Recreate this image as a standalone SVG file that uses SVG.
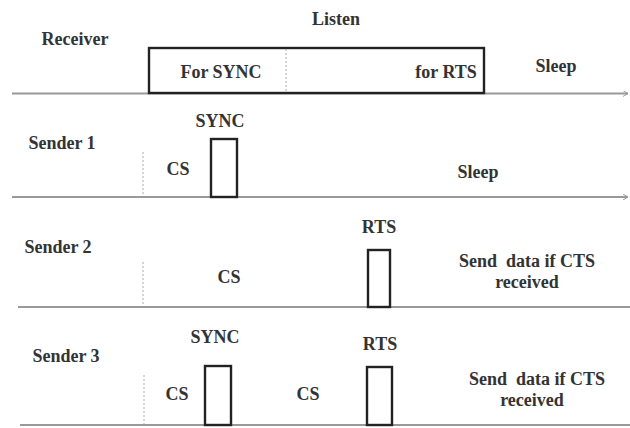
<svg xmlns="http://www.w3.org/2000/svg" width="630" height="428" viewBox="0 0 630 428">
<style>
text{font-family:"Liberation Serif","Times New Roman","DejaVu Serif",serif;font-weight:bold;font-size:18px;fill:#333;text-anchor:middle}
.axis{stroke:#999;stroke-width:2;fill:none}
.box{stroke:#222;stroke-width:2.4;fill:#fff}
.dash{stroke:#aaa;stroke-width:1;stroke-dasharray:2,2;fill:none}
</style>
<defs>
<marker id="ah" markerWidth="6" markerHeight="6" refX="5" refY="3" orient="auto" markerUnits="userSpaceOnUse"><path d="M0,0 L5,3 L0,6" fill="none" stroke="#999" stroke-width="1"/></marker>
</defs>
<g id="connectors">
<line class="axis" x1="12" y1="93.5" x2="628" y2="93.5" marker-end="url(#ah)"/>
<line class="axis" x1="12" y1="197" x2="628" y2="197" marker-end="url(#ah)"/>
<line class="axis" x1="18" y1="307" x2="630" y2="307"/>
<line class="axis" x1="20" y1="425" x2="630" y2="425"/>
<line class="dash" x1="143" y1="152" x2="143" y2="196"/>
<line class="dash" x1="143" y1="262" x2="143" y2="306"/>
<line class="dash" x1="144" y1="375" x2="144" y2="424"/>
</g>
<g id="receiver">
<text x="75" y="45">Receiver</text>
<text x="336" y="25">Listen</text>
<rect class="box" x="149" y="48" width="335" height="45"/>
<line class="dash" x1="286" y1="49" x2="286" y2="92"/>
<text x="221" y="78">For SYNC</text>
<text x="446" y="78">for RTS</text>
<text x="556" y="72">Sleep</text>
</g>
<g id="sender1">
<text x="62" y="149">Sender 1</text>
<text x="220" y="127">SYNC</text>
<rect class="box" x="211" y="139" width="26" height="58"/>
<text x="178" y="175">CS</text>
<text x="478" y="178">Sleep</text>
</g>
<g id="sender2">
<text x="58" y="253">Sender 2</text>
<text x="379" y="233">RTS</text>
<rect class="box" x="368" y="250" width="22" height="57"/>
<text x="229" y="283">CS</text>
<text x="527" y="267" xml:space="preserve">Send  data if CTS</text>
<text x="527" y="288">received</text>
</g>
<g id="sender3">
<text x="66" y="362">Sender 3</text>
<text x="215" y="343">SYNC</text>
<rect class="box" x="205" y="366" width="26" height="59"/>
<text x="380" y="350">RTS</text>
<rect class="box" x="367" y="367" width="25" height="58"/>
<text x="177" y="400">CS</text>
<text x="308" y="400">CS</text>
<text x="537" y="385" xml:space="preserve">Send  data if CTS</text>
<text x="532" y="406">received</text>
</g>
</svg>
